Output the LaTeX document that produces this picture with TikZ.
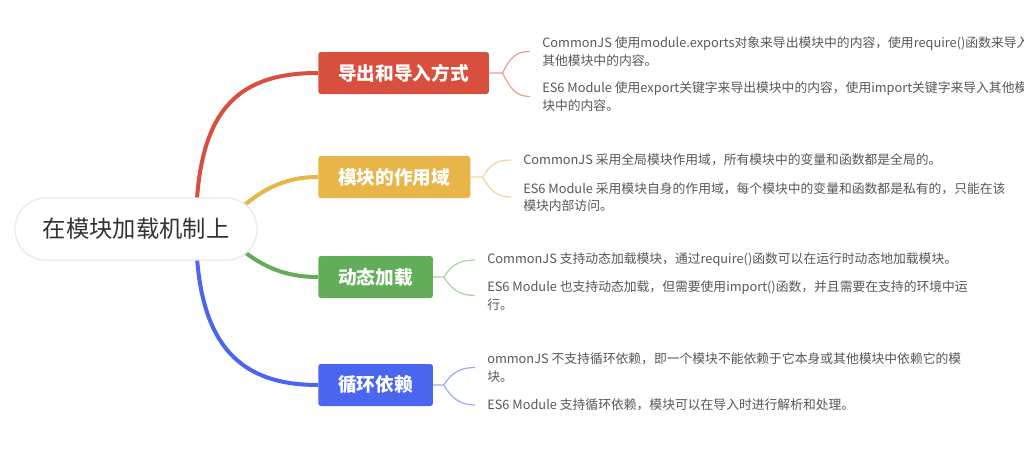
\documentclass[tikz,border=0pt]{standalone}
\usepackage{fontspec}
\setmainfont{Noto Sans CJK SC}
\usepackage{tikz}
\usetikzlibrary{backgrounds}
\usetikzlibrary{shadows}
\definecolor{topicred}{RGB}{217, 79, 61}
\definecolor{topicyellow}{RGB}{231, 181, 72}
\definecolor{topicgreen}{RGB}{98, 174, 88}
\definecolor{topicblue}{RGB}{74, 101, 240}
\definecolor{leafgray}{RGB}{88, 88, 88}
\definecolor{rootgray}{RGB}{51, 51, 51}
\tikzset{rootbox/.style = {rectangle, rounded corners=23pt, fill=white,
                           draw=black!8, line width=1pt,
                           drop shadow={shadow xshift=0pt, shadow yshift=-1pt, opacity=0.08},
                           minimum width=181.5pt, minimum height=46.5pt,
                           text=rootgray, font=\fontsize{17.5pt}{17.5pt}\selectfont},
         topicbox/.style = {rectangle, rounded corners=2pt, fill=#1,
                            minimum height=31.5pt, inner xsep=15pt,
                            text=white, font=\bfseries\fontsize{14pt}{14pt}\selectfont},
         leafnote/.style = {anchor=west, align=left, inner xsep=9pt, inner ysep=0pt,
                            text=leafgray, font=\fontsize{9.6pt}{13pt}\selectfont},
         trunkline/.style = {draw=#1, line width=3pt},
         twigline/.style = {draw=#1!55, line width=0.9pt}}

\begin{document}
\begin{tikzpicture}[x=0.75pt, y=-0.75pt]
    \path [use as bounding box, clip] (0, 0) rectangle (1024, 450);
    \node [rootbox] (root) at (136, 229) {在模块加载机制上};
    \coordinate (hubouter) at ([xshift=45pt]root.center);
    \coordinate (hubinner) at ([xshift=60pt]root.center);
    \node [topicbox=topicred, anchor=west] (export) at (318, 73) {导出和导入方式};
    \node [topicbox=topicyellow, anchor=west] (scoping) at (318, 177) {模块的作用域};
    \node [topicbox=topicgreen, anchor=west] (dynamic) at (318, 277) {动态加载};
    \node [topicbox=topicblue, anchor=west] (cycle) at (318, 385) {循环依赖};
    \coordinate (exportfork) at ([xshift=10pt]export.east);
    \coordinate (scopingfork) at ([xshift=9pt]scoping.east);
    \coordinate (dynamicfork) at ([xshift=8pt]dynamic.east);
    \coordinate (cyclefork) at ([xshift=8pt]cycle.east);
    \node [leafnote] (exportcjs) at (530, 51.5)
        {CommonJS 使用module.exports对象来导出模块中的内容，使用require()函数来导入\\其他模块中的内容。};
    \node [leafnote] (exportesm) at (530, 96.5)
        {ES6 Module 使用export关键字来导出模块中的内容，使用import关键字来导入其他模\\块中的内容。};
    \node [leafnote] (scopingcjs) at (511, 160)
        {CommonJS 采用全局模块作用域，所有模块中的变量和函数都是全局的。};
    \node [leafnote] (scopingesm) at (511, 197)
        {ES6 Module 采用模块自身的作用域，每个模块中的变量和函数都是私有的，只能在该\\模块内部访问。};
    \node [leafnote] (dynamiccjs) at (475, 260)
        {CommonJS 支持动态加载模块，通过require()函数可以在运行时动态地加载模块。};
    \node [leafnote] (dynamicesm) at (475, 295.5)
        {ES6 Module 也支持动态加载，但需要使用import()函数，并且需要在支持的环境中运\\行。};
    \node [leafnote] (cyclecjs) at (475, 367.5)
        {ommonJS 不支持循环依赖，即一个模块不能依赖于它本身或其他模块中依赖它的模\\块。};
    \node [leafnote] (cycleesm) at (475, 405)
        {ES6 Module 支持循环依赖，模块可以在导入时进行解析和处理。};
    \draw [twigline=topicred] (export.east) -- (exportfork)
        .. controls +(8, -16) and +(-14, 0) .. (exportcjs.west);
    \draw [twigline=topicred] (exportfork)
        .. controls +(8, 16) and +(-14, 0) .. (exportesm.west);
    \draw [twigline=topicyellow] (scoping.east) -- (scopingfork)
        .. controls +(8, -13) and +(-14, 0) .. (scopingcjs.west);
    \draw [twigline=topicyellow] (scopingfork)
        .. controls +(8, 14) and +(-14, 0) .. (scopingesm.west);
    \draw [twigline=topicgreen] (dynamic.east) -- (dynamicfork)
        .. controls +(8, -13) and +(-14, 0) .. (dynamiccjs.west);
    \draw [twigline=topicgreen] (dynamicfork)
        .. controls +(8, 13) and +(-14, 0) .. (dynamicesm.west);
    \draw [twigline=topicblue] (cycle.east) -- (cyclefork)
        .. controls +(8, -13) and +(-14, 0) .. (cyclecjs.west);
    \draw [twigline=topicblue] (cyclefork)
        .. controls +(8, 14) and +(-14, 0) .. (cycleesm.west);
    \begin{scope}[on background layer]
        \fill [white] (0, 0) rectangle (1024, 450);
        \draw [trunkline=topicred] (hubouter) .. controls +(0, -120) and +(-80, 0) .. (export.west);
        \draw [trunkline=topicyellow] (hubinner) .. controls +(30, -24) and +(-50, 0) .. (scoping.west);
        \draw [trunkline=topicgreen] (hubinner) .. controls +(30, 24) and +(-50, 0) .. (dynamic.west);
        \draw [trunkline=topicblue] (hubouter) .. controls +(0, 120) and +(-75, 0) .. (cycle.west);
    \end{scope}
\end{tikzpicture}
\end{document}
